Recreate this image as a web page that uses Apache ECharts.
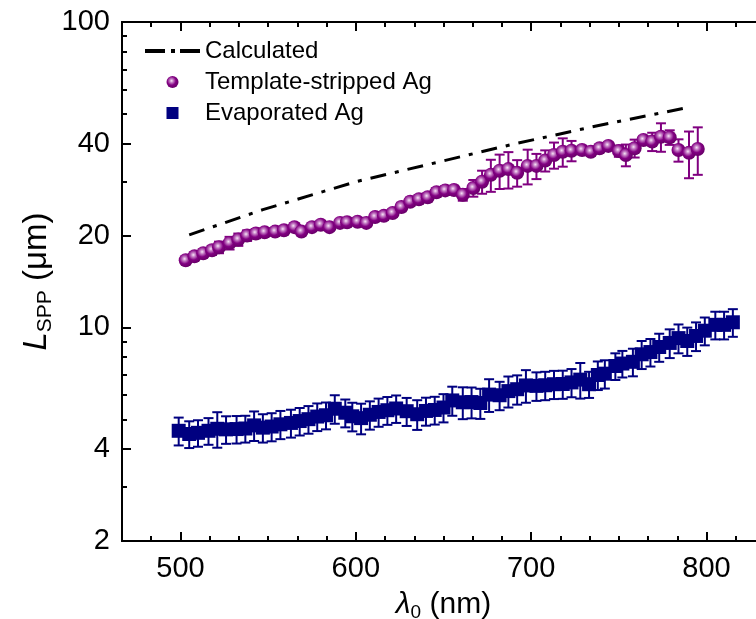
<!DOCTYPE html>
<html>
<head>
<meta charset="utf-8">
<script src="https://cdn.jsdelivr.net/npm/echarts@6/dist/echarts.min.js"></script>
<style>
  html, body { margin: 0; padding: 0; overflow: hidden; background: #fff; }
  #main { width: 766px; height: 619px; }
</style>
</head>
<body>
<div id="main"></div>
<script>
// calculated curve (dash-dot)
var calcX = [505, 547, 600, 648, 688, 735, 791];
var calcY = [20.1, 24.3, 30.0, 34.9, 39.6, 45.4, 52.7];

// template-stripped Ag
var tsX = [503, 508, 513, 518, 522, 528, 533, 538, 543, 548,
  554, 559, 565, 569, 575, 580, 585, 591, 595, 601,
  606, 611, 616, 621, 626, 631, 636, 641, 646, 651,
  656, 661, 667, 672, 677, 682, 687, 692, 698, 703,
  708, 713, 718, 723, 729, 734, 739, 744, 750, 754,
  759, 764, 769, 774, 779, 784, 790, 795];
var tsY = [16.6, 17.1, 17.5, 17.9, 18.3, 18.9, 19.4, 20.0, 20.3, 20.5,
  20.6, 20.8, 21.3, 20.6, 21.3, 21.7, 21.3, 22.0, 22.1, 22.2,
  22.0, 23.0, 23.2, 23.7, 24.8, 25.8, 26.3, 26.7, 27.7, 28.1,
  28.2, 27.2, 28.6, 30.0, 31.6, 32.6, 33.0, 32.1, 33.8, 33.8,
  35.2, 36.7, 37.6, 37.9, 38.1, 37.6, 38.6, 39.3, 37.8, 36.7,
  38.6, 41.1, 40.6, 42.1, 41.9, 38.1, 37.3, 38.4];
var tsErr = [0.4, 0.5, 0.5, 0.6, 0.8, 0.9, 0.9, 0.8, 0.7, 0.6,
  0.6, 0.5, 0.6, 0.5, 0.6, 0.6, 0.5, 0.6, 0.6, 0.6,
  0.6, 0.7, 0.7, 0.7, 0.8, 0.8, 0.8, 0.8, 0.9, 0.9,
  0.9, 1.2, 1.8, 2.6, 3.8, 4.2, 4.5, 3.2, 4.4, 3.2,
  2.8, 3.6, 4.0, 2.9, 1.2, 1.0, 0.8, 0.9, 1.6, 3.0,
  2.6, 1.0, 2.8, 4.5, 2.3, 3.2, 6.5, 6.8];

// evaporated Ag
var evX = [499, 505, 510, 516, 521, 526, 532, 537, 542, 547,
  552, 557, 563, 568, 573, 578, 583, 588, 594, 598,
  603, 608, 613, 618, 623, 629, 635, 640, 645, 650,
  655, 661, 666, 671, 676, 682, 687, 692, 697, 703,
  708, 713, 718, 723, 728, 733, 738, 742, 748, 752,
  758, 763, 768, 773, 779, 784, 789, 794, 799, 805,
  810, 815];
var evY = [4.59, 4.48, 4.52, 4.59, 4.66, 4.64, 4.65, 4.67, 4.78, 4.70,
  4.74, 4.82, 4.87, 4.94, 5.01, 5.11, 5.16, 5.42, 5.26, 5.12,
  5.05, 5.18, 5.29, 5.36, 5.43, 5.32, 5.20, 5.33, 5.37, 5.47,
  5.77, 5.69, 5.70, 5.66, 6.03, 6.00, 6.19, 6.28, 6.46, 6.44,
  6.47, 6.52, 6.53, 6.61, 6.75, 6.52, 6.99, 7.06, 7.48, 7.62,
  7.72, 8.17, 8.31, 8.63, 8.90, 9.23, 9.03, 9.38, 9.76, 10.2,
  10.2, 10.4];
var evErr = [0.48, 0.45, 0.45, 0.46, 0.62, 0.48, 0.48, 0.47, 0.53, 0.50,
  0.50, 0.51, 0.51, 0.51, 0.52, 0.53, 0.52, 0.58, 0.55, 0.55,
  0.58, 0.55, 0.56, 0.56, 0.56, 0.56, 0.58, 0.56, 0.56, 0.58,
  0.63, 0.68, 0.66, 0.64, 0.74, 0.64, 0.72, 0.69, 0.79, 0.69,
  0.69, 0.69, 0.69, 0.70, 0.90, 0.64, 0.75, 0.75, 0.75, 0.76,
  0.80, 0.86, 0.86, 0.91, 0.96, 1.00, 0.96, 1.01, 1.02, 1.06,
  1.06, 1.08];

// ticks
var xTicks = [500, 600, 700, 800];
var xMinorTicks = [483.33, 516.67, 533.33, 550, 566.67, 583.33, 616.67, 633.33, 650, 666.67,
  683.33, 716.67, 733.33, 750, 766.67, 783.33, 816.67];
var yTicks = [2, 4, 10, 20, 40, 100];
var yTickLabels = ['2', '4', '10', '20', '40', '100'];
var yMinorTicks = [3, 5, 6, 7, 8, 9, 30, 50, 60, 70, 80, 90];

var FONT = '"Liberation Sans", Arial, sans-serif';
var X_MIN = 466.67, X_MAX = 833.33;
var Y_MIN = 2, Y_MAX = 100;

function lg(v) { return Math.log10(v); }

function pairs(xs, ys) {
  return xs.map(function (x, i) { return [x, ys[i]]; });
}

function errorBars(xs, ys, errs, color) {
  return {
    type: 'custom',
    xAxisIndex: 0,
    yAxisIndex: 0,
    silent: true,
    encode: { x: 0, y: 1 },
    data: xs.map(function (x, i) { return [x, ys[i], errs[i]]; }),
    renderItem: function (params, api) {
      var x = api.value(0), y = api.value(1), e = api.value(2);
      var top = api.coord([x, y + e]);
      var bot = api.coord([x, y - e]);
      var hw = 5;
      var st = { stroke: color, lineWidth: 2 };
      return {
        type: 'group',
        children: [
          { type: 'line', shape: { x1: top[0], y1: top[1], x2: bot[0], y2: bot[1] }, style: st },
          { type: 'line', shape: { x1: top[0] - hw, y1: top[1], x2: top[0] + hw, y2: top[1] }, style: st },
          { type: 'line', shape: { x1: bot[0] - hw, y1: bot[1], x2: bot[0] + hw, y2: bot[1] }, style: st }
        ]
      };
    }
  };
}

function xAxisBase(pos, ticks, len, showLabel, extra) {
  var ax = {
    type: 'value',
    position: pos,
    min: X_MIN,
    max: X_MAX,
    axisLine: { show: true, onZero: false, lineStyle: { color: '#000', width: 2 } },
    axisTick: { show: true, inside: true, length: len, customValues: ticks, lineStyle: { color: '#000', width: 2 } },
    axisLabel: { show: showLabel, customValues: ticks, color: '#000', fontFamily: FONT, fontSize: 29, margin: 13 },
    splitLine: { show: false }
  };
  return Object.assign(ax, extra || {});
}

function yValueAxis(ticks, len, showLabel) {
  return {
    type: 'value',
    position: 'left',
    min: lg(Y_MIN),
    max: lg(Y_MAX),
    axisLine: { show: false, onZero: false },
    axisTick: { show: true, inside: true, length: len, customValues: ticks.map(lg), lineStyle: { color: '#000', width: 2 } },
    axisLabel: {
      show: showLabel,
      customValues: ticks.map(lg),
      color: '#000',
      fontFamily: FONT,
      fontSize: 29,
      margin: 12,
      formatter: function (v) {
        var best = 0;
        for (var i = 0; i < yTicks.length; i++) {
          if (Math.abs(lg(yTicks[i]) - v) < Math.abs(lg(yTicks[best]) - v)) best = i;
        }
        return yTickLabels[best];
      }
    },
    splitLine: { show: false }
  };
}

var sphere = {
  type: 'radial', x: 0.42, y: 0.4, r: 0.6,
  colorStops: [
    { offset: 0, color: '#f6e6f6' },
    { offset: 0.25, color: '#c47cc4' },
    { offset: 0.6, color: '#820082' },
    { offset: 1, color: '#680068' }
  ]
};

// dash - dot - dash icon for the calculated curve in the legend
var dashDotIcon = 'path://M0,0L20,0L20,4L0,4Z M26,0L30,0L30,4L26,4Z M35,0L55,0L55,4L35,4Z';

var chart = echarts.init(document.getElementById('main'), null, { renderer: 'canvas' });

var option = {
  backgroundColor: '#fff',
  animation: false,
  grid: { left: 122, right: 1, top: 22, bottom: 78, outerBoundsMode: 'none' },
  legend: {
    orient: 'vertical',
    left: 145,
    top: 38,
    padding: 0,
    itemGap: 5,
    itemWidth: 55,
    itemHeight: 12,
    selectedMode: false,
    textStyle: { fontFamily: FONT, fontSize: 24, color: '#000', lineHeight: 26 },
    data: [
      { name: 'Calculated', icon: dashDotIcon, itemStyle: { color: '#000', borderWidth: 0 } },
      { name: 'Template-stripped Ag', icon: 'circle' },
      { name: 'Evaporated Ag', icon: 'path://M0,0L10,0L10,10L0,10Z' }
    ]
  },
  xAxis: [
    xAxisBase('bottom', xTicks, 9, true, {
      name: '{i|λ}{sub|0} (nm)',
      nameLocation: 'middle',
      nameGap: 40,
      nameTextStyle: {
        fontFamily: FONT, fontSize: 30, color: '#000', lineHeight: 34,
        rich: {
          i: { fontFamily: FONT, fontSize: 30, fontStyle: 'italic', lineHeight: 34 },
          sub: { fontFamily: FONT, fontSize: 19, verticalAlign: 'bottom', lineHeight: 16 }
        }
      }
    }),
    xAxisBase('bottom', xMinorTicks, 5, false),
    xAxisBase('top', xTicks, 9, false),
    xAxisBase('top', xMinorTicks, 5, false)
  ],
  yAxis: [
    {
      type: 'log',
      logBase: 10,
      position: 'left',
      min: Y_MIN,
      max: Y_MAX,
      axisLine: { show: true, onZero: false, lineStyle: { color: '#000', width: 2 } },
      axisTick: { show: false },
      axisLabel: { show: false },
      splitLine: { show: false },
      name: '{i|L}{sub|SPP} (μm)',
      nameLocation: 'middle',
      nameGap: 66,
      nameTextStyle: {
        fontFamily: FONT, fontSize: 33, color: '#000', lineHeight: 38,
        rich: {
          i: { fontFamily: FONT, fontSize: 33, fontStyle: 'italic', lineHeight: 38 },
          sub: { fontFamily: FONT, fontSize: 21, verticalAlign: 'bottom', lineHeight: 18 }
        }
      }
    },
    yValueAxis(yTicks, 9, true),
    yValueAxis(yMinorTicks, 5, false)
  ],
  series: [
    {
      name: 'Calculated',
      type: 'line',
      xAxisIndex: 0,
      yAxisIndex: 0,
      symbol: 'none',
      silent: true,
      lineStyle: { color: '#000', width: 3, type: [16, 9, 4, 9] },
      itemStyle: { color: '#000' },
      data: pairs(calcX, calcY),
      z: 2
    },
    Object.assign(errorBars(tsX, tsY, tsErr, '#800080'), { z: 3 }),
    {
      name: 'Template-stripped Ag',
      type: 'scatter',
      xAxisIndex: 0,
      yAxisIndex: 0,
      symbol: 'circle',
      symbolSize: 14,
      silent: true,
      itemStyle: { color: sphere, opacity: 1 },
      data: pairs(tsX, tsY),
      z: 4
    },
    Object.assign(errorBars(evX, evY, evErr, '#000080'), { z: 3 }),
    {
      name: 'Evaporated Ag',
      type: 'scatter',
      xAxisIndex: 0,
      yAxisIndex: 0,
      symbol: 'rect',
      symbolSize: 14,
      silent: true,
      itemStyle: { color: '#000080', opacity: 1 },
      data: pairs(evX, evY),
      z: 4
    }
  ]
};

chart.setOption(option);
</script>
</body>
</html>
